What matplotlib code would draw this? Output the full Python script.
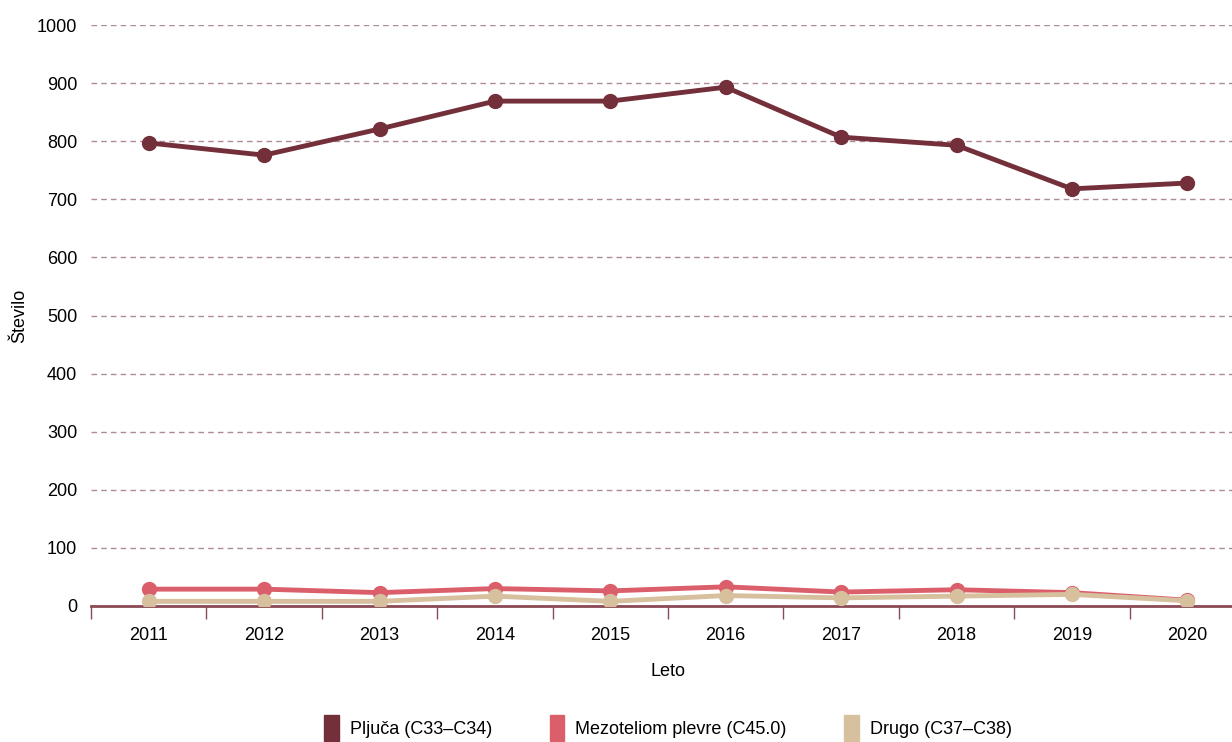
import matplotlib.pyplot as plt
from matplotlib.patches import Patch

plt.rcParams['font.family'] = ['Liberation Sans', 'DejaVu Sans']

years = ['2011', '2012', '2013', '2014', '2015', '2016', '2017', '2018', '2019', '2020']
pljuca = [797, 776, 821, 869, 869, 893, 807, 793, 718, 728]
mezoteliom = [29, 29, 23, 30, 26, 33, 24, 28, 23, 10]
drugo = [8, 8, 8, 17, 8, 18, 14, 17, 20, 9]

c_pl = '#74303a'
c_me = '#db5f6b'
c_dr = '#d6c09e'
c_axis = '#8b4a55'

fig = plt.figure(figsize=(12.32, 7.42), dpi=100)
ax = fig.add_axes([91 / 1232, 136 / 742, 1154 / 1232, 581 / 742])

x = range(len(years))
ax.plot(x, pljuca, color=c_pl, lw=3.5, marker='o', ms=10, zorder=3)
ax.plot(x, mezoteliom, color=c_me, lw=3.5, marker='o', ms=10, zorder=3)
ax.plot(x, drugo, color=c_dr, lw=3.5, marker='o', ms=10, zorder=4)

ax.set_xlim(-0.5, 9.5)
ax.set_ylim(0, 1000)
ax.set_yticks(range(0, 1001, 100))
ax.set_xticks(list(x))
ax.set_xticklabels(years)
ax.set_xticks([i - 0.5 for i in range(11)], minor=True)
ax.tick_params(axis='x', which='major', length=0, pad=15, labelsize=13)
ax.tick_params(axis='x', which='minor', length=9, width=1, color=c_axis)
ax.tick_params(axis='y', length=0, pad=10, labelsize=13)

ax.grid(axis='y', color='#b08a94', linestyle=(0, (4, 3)), lw=1)
for s in ['left', 'right', 'top']:
    ax.spines[s].set_visible(False)
ax.spines['bottom'].set_color(c_axis)
ax.spines['bottom'].set_linewidth(2)

ax.set_xlabel('Leto', fontsize=13, labelpad=14)
ax.set_ylabel('Število', fontsize=13, labelpad=6)

handles = [Patch(color=c_pl, label='Pljuča (C33–C34)'),
           Patch(color=c_me, label='Mezoteliom plevre (C45.0)'),
           Patch(color=c_dr, label='Drugo (C37–C38)')]
fig.legend(handles=handles, loc='center', bbox_to_anchor=(668 / 1232, 1 - 728 / 742),
           ncol=3, frameon=False, fontsize=13, handlelength=0.8, handleheight=1.9,
           columnspacing=3.2, handletextpad=0.6)

fig.savefig('out.png', dpi=100)
